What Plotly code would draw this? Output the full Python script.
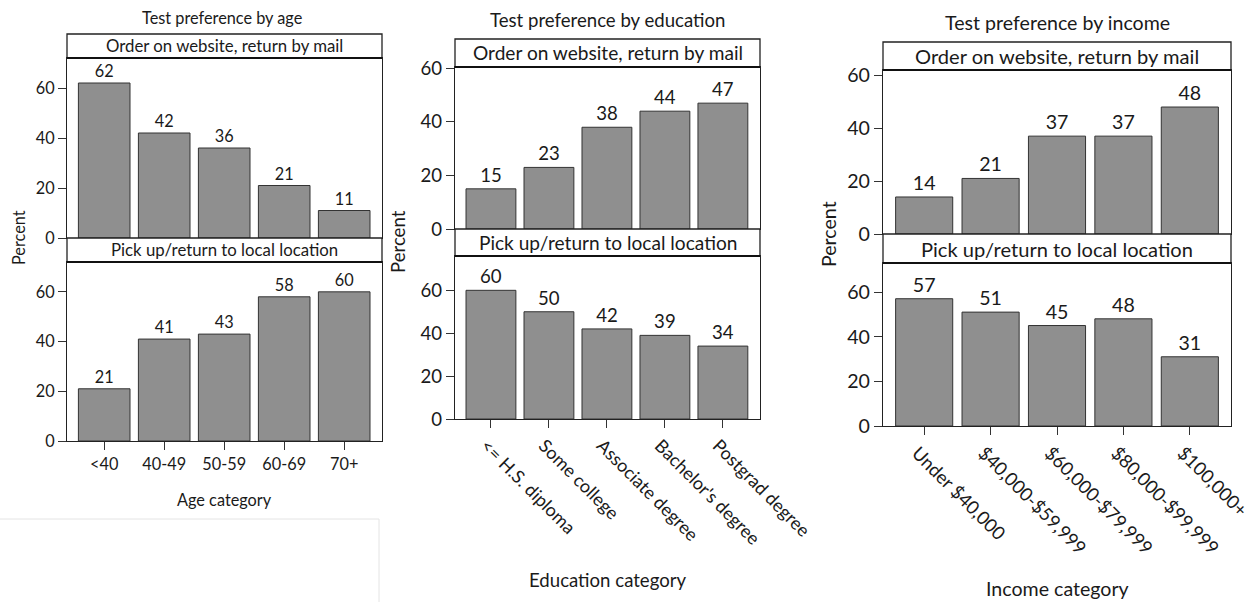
import plotly.graph_objects as go

W, H = 1252, 602

# ---------------- data ----------------
age_cats = ["<40", "40-49", "50-59", "60-69", "70+"]
age_web = [62, 42, 36, 21, 11]
age_local = [21, 41, 43, 58, 60]

edu_cats = ["<= H.S. diploma", "Some college", "Associate degree", "Bachelor's degree", "Postgrad degree"]
edu_web = [15, 23, 38, 44, 47]
edu_local = [60, 50, 42, 39, 34]

inc_cats = ["Under $40,000", "$40,000-$59,999", "$60,000-$79,999", "$80,000-$99,999", "$100,000+"]
inc_web = [14, 21, 37, 37, 48]
inc_local = [57, 51, 45, 48, 31]

titles = ["Test preference by age", "Test preference by education", "Test preference by income"]
xtitles = ["Age category", "Education category", "Income category"]
strip_labels = ["Order on website, return by mail", "Pick up/return to local location"]

# ---------------- layout geometry (pixels) ----------------
panels = [
    dict(cats=age_cats, web=age_web, local=age_local, L=67, R=382,
         s1=(34, 58), p1=(58, 238), r1=72, s2=(238, 262), p2=(262, 441), r2=72,
         tx=222, ty=18, xty=499, px=18, py=238, fs=16.3, xfs=16.3, tangle=0, shift=0,
         xr=(-0.62, 4.63)),
    dict(cats=edu_cats, web=edu_web, local=edu_local, L=455, R=760,
         s1=(39, 67), p1=(67, 229), r1=60.5, s2=(229, 256), p2=(256, 419), r2=76,
         tx=607, ty=20, xty=580, px=398, py=242, fs=18.6, xfs=18, tangle=45, shift=-5,
         xr=(-0.62, 4.64)),
    dict(cats=inc_cats, web=inc_web, local=inc_local, L=883, R=1231,
         s1=(42, 70), p1=(70, 234), r1=62, s2=(234, 263), p2=(263, 426), r2=73,
         tx=1057, ty=23, xty=588, px=828, py=234, fs=19.6, xfs=18.4, tangle=45, shift=-7,
         xr=(-0.62, 4.62)),
]

FONT = "Lato"
BAR = "#8f8f8f"
TXT = "#1a1a1a"


def fx(px):
    return px / W


def fy(py):
    return 1 - py / H


fig = go.Figure()
shapes = []
annotations = []

k = 0
for idx, p in enumerate(panels):
    for which in (1, 2):
        k += 1
        vals = p["web"] if which == 1 else p["local"]
        top, bot = p["p1"] if which == 1 else p["p2"]
        rmax = p["r1"] if which == 1 else p["r2"]
        xa = "x" if k == 1 else f"x{k}"
        ya = "y" if k == 1 else f"y{k}"
        fig.add_trace(go.Bar(
            x=p["cats"], y=vals, xaxis=xa, yaxis=ya,
            marker=dict(color=BAR, line=dict(color="#333333", width=1)),
            text=[str(v) for v in vals], textposition="outside",
            textfont=dict(family=FONT, size=p["fs"], color=TXT),
            cliponaxis=False, showlegend=False, width=0.86,
        ))
        xkey = "xaxis" if k == 1 else f"xaxis{k}"
        ykey = "yaxis" if k == 1 else f"yaxis{k}"
        bottom = which == 2
        fig.layout[xkey] = dict(
            domain=[fx(p["L"]), fx(p["R"])], anchor=ya, type="category", automargin=False,
            range=list(p["xr"]), showline=True, mirror=True, linecolor="#222", linewidth=1.3,
            ticks="outside" if bottom else "", ticklen=8, tickcolor="#333",
            showticklabels=bottom, tickangle=p["tangle"] if bottom else 0,
            ticklabelshift=p["shift"],
            tickfont=dict(family=FONT, size=p["xfs"], color=TXT),
            showgrid=False, zeroline=False, fixedrange=True,
        )
        fig.layout[ykey] = dict(
            domain=[fy(bot), fy(top)], anchor=xa, range=[0, rmax], automargin=False,
            tickvals=[0, 20, 40, 60], showline=True, mirror=True, linecolor="#222", linewidth=1.3,
            ticks="outside", ticklen=8, tickcolor="#333",
            tickfont=dict(family=FONT, size=p["fs"], color=TXT),
            showgrid=False, zeroline=False, fixedrange=True,
        )
    # strips
    for s, lab in zip((p["s1"], p["s2"]), strip_labels):
        shapes.append(dict(type="rect", xref="paper", yref="paper",
                           x0=fx(p["L"]), x1=fx(p["R"]), y0=fy(s[1]), y1=fy(s[0]),
                           fillcolor="white", line=dict(color="#222", width=1.3), layer="above"))
        shapes.append(dict(type="line", xref="paper", yref="paper",
                           x0=fx(p["L"]), x1=fx(p["R"]), y0=fy(s[1]), y1=fy(s[1]),
                           line=dict(color="#111", width=2.2), layer="above"))
        annotations.append(dict(xref="paper", yref="paper", x=fx((p["L"] + p["R"]) / 2),
                                y=fy((s[0] + s[1]) / 2), text=lab, showarrow=False,
                                xanchor="center", yanchor="middle",
                                font=dict(family=FONT, size=p["fs"] + 0.5, color=TXT)))
    annotations.append(dict(xref="paper", yref="paper", x=fx(p["tx"]), y=fy(p["ty"]),
                            text=titles[idx], showarrow=False,
                            xanchor="center", yanchor="middle",
                            font=dict(family=FONT, size=p["fs"], color=TXT)))
    annotations.append(dict(xref="paper", yref="paper", x=fx((p["L"] + p["R"]) / 2), y=fy(p["xty"]),
                            text=xtitles[idx], showarrow=False,
                            xanchor="center", yanchor="middle",
                            font=dict(family=FONT, size=p["fs"], color=TXT)))
    annotations.append(dict(xref="paper", yref="paper", x=fx(p["px"]), y=fy(p["py"]),
                            text="Percent", showarrow=False, textangle=-90,
                            xanchor="center", yanchor="middle",
                            font=dict(family=FONT, size=p["fs"], color=TXT)))

# faint scan-border box at lower left
shapes.append(dict(type="line", xref="paper", yref="paper", x0=0, x1=fx(379), y0=fy(519), y1=fy(519),
                   line=dict(color="#e4e4e4", width=1)))
shapes.append(dict(type="line", xref="paper", yref="paper", x0=fx(379), x1=fx(379), y0=fy(519), y1=0,
                   line=dict(color="#e4e4e4", width=1)))

fig.update_layout(
    width=W, height=H, margin=dict(l=0, r=0, t=0, b=0, pad=0, autoexpand=False),
    paper_bgcolor="white", plot_bgcolor="white",
    shapes=shapes, annotations=annotations, bargap=0.14,
    font=dict(family=FONT, color=TXT),
)

fig.write_html("out.html", config={"displayModeBar": False})

# remove default page margins so the figure sits at the window origin
with open("out.html", "r", encoding="utf-8") as f:
    html = f.read()
html = html.replace("<head>", "<head><style>html,body{margin:0;padding:0;overflow:hidden}</style>", 1)
with open("out.html", "w", encoding="utf-8") as f:
    f.write(html)
